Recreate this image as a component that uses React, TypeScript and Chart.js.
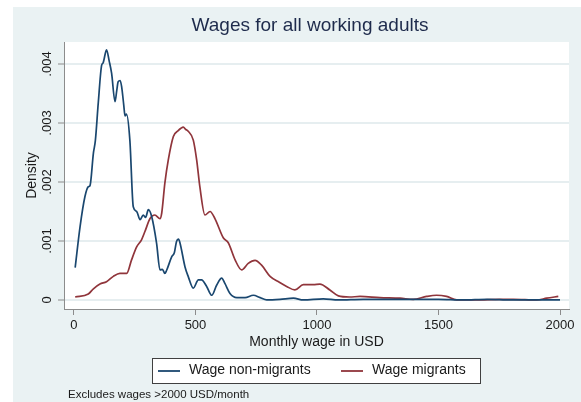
import React, { useEffect, useRef } from "react";
import { Chart, registerables } from "chart.js";

Chart.register(...registerables);

const titleText = "Wages for all working adults";
const xAxisTitle = "Monthly wage in USD";
const yAxisTitle = "Density";
const noteText = "Excludes wages >2000 USD/month";
const seriesNames = ["Wage non-migrants", "Wage migrants"];
const seriesColors = ["#1a476f", "#90353b"];

const xTicks = [0, 500, 1000, 1500, 2000];
const yTicks = [0, 0.001, 0.002, 0.003, 0.004];
const yTickLabels = ["0", ".001", ".002", ".003", ".004"];

const nonMigrantWage = [
  5, 25, 45, 59, 66, 80, 88, 100, 114, 120, 134, 145, 155, 169, 176, 182, 190, 196, 205, 210,
  216, 230, 244, 258, 272, 285, 295, 306, 320, 340, 354, 364, 374, 381, 402, 413, 422, 430, 436,
  457, 470, 491, 512, 525, 546, 567, 587, 608, 621, 642, 670, 704, 738, 766, 793, 848, 903, 944,
  1026, 1088, 1190, 1300, 1400, 1500, 1600, 1700, 1800, 1900, 2000,
];
const nonMigrantDensity = [
  0.00055, 0.00124, 0.00175, 0.00192, 0.00194, 0.00249, 0.0027, 0.00334, 0.00398, 0.00402,
  0.00424, 0.00405, 0.00384, 0.00336, 0.00355, 0.0037, 0.00372, 0.00362, 0.0033, 0.00312,
  0.00315, 0.00271, 0.00158, 0.0015, 0.00136, 0.00144, 0.0014, 0.00153, 0.00141, 0.00096,
  0.00051, 0.00052, 0.00045, 0.0005, 0.00073, 0.0008, 0.00099, 0.00103, 0.00097, 0.00056,
  0.0004, 0.0002, 0.00034, 0.00034, 0.00023, 0.00008, 0.00025, 0.00037, 0.00028, 0.00011,
  0.00004, 0.00004, 0.00008, 0.00004, 0.0, 0.00001, 0.00003, 0.0, 0.00002, 0.0, 0.00001,
  0.00001, 0.00001, 0.00001, 0.0, 0.00001, 0.0, 0.0, 0.0,
];

const migrantWage = [
  5, 59, 80, 107, 134, 162, 189, 217, 237, 258, 278, 292, 313, 333, 354, 361, 374, 388, 409, 429,
  440, 450, 460, 470, 491, 505, 518, 539, 560, 580, 615, 635, 663, 690, 717, 745, 772, 807, 845,
  875, 909, 944, 985, 1012, 1053, 1088, 1134, 1177, 1259, 1342, 1396, 1451, 1492, 1533, 1575,
  1671, 1753, 1808, 1904, 1945, 1993,
];
const migrantDensity = [
  0.00005, 0.0001, 0.00019, 0.00027, 0.00031, 0.0004, 0.00045, 0.00045, 0.00068, 0.0009,
  0.00102, 0.00116, 0.00138, 0.00144, 0.00138, 0.00147, 0.00198, 0.00237, 0.00277, 0.00287,
  0.00291, 0.00293, 0.00289, 0.00286, 0.00271, 0.00237, 0.00192, 0.00144, 0.0015, 0.00138,
  0.00105, 0.00097, 0.00068, 0.00051, 0.00062, 0.00067, 0.00059, 0.0004, 0.0003, 0.00023,
  0.00017, 0.00026, 0.00026, 0.00027, 0.00017, 0.00007, 0.00005, 0.00006, 0.00004, 0.00003,
  0.00001, 0.00006, 0.00008, 0.00006, 0.0, 0.0, 0.00001, 0.00001, 0.0, 0.00003, 0.00006,
];

const FONT = "'Liberation Sans', Arial, sans-serif";
const BG = "#eaf2f3";

const decorPlugin = {
  id: "decor",
  beforeDraw(chart: any) {
    const { ctx, chartArea } = chart;
    ctx.save();
    ctx.fillStyle = "#ffffff";
    ctx.fillRect(0, 0, chart.width, chart.height);
    ctx.fillStyle = BG;
    ctx.fillRect(13, 7, chart.width - 13, chart.height - 7);
    ctx.fillStyle = "#ffffff";
    ctx.fillRect(chartArea.left, chartArea.top, chartArea.right - chartArea.left, chartArea.bottom - chartArea.top);
    ctx.restore();
  },
  afterDraw(chart: any) {
    const { ctx, chartArea } = chart;
    const yScale = chart.scales.y;
    ctx.save();
    // title
    ctx.fillStyle = "#1e2b4c";
    ctx.font = `19px ${FONT}`;
    ctx.textAlign = "center";
    ctx.textBaseline = "alphabetic";
    ctx.fillText(titleText, 310, 31);
    // y tick labels (rotated)
    ctx.fillStyle = "#1a1a1a";
    ctx.font = `13px ${FONT}`;
    yTicks.forEach((v, i) => {
      const y = yScale.getPixelForValue(v);
      ctx.save();
      ctx.translate(47, y);
      ctx.rotate(-Math.PI / 2);
      ctx.textAlign = "center";
      ctx.textBaseline = "middle";
      ctx.fillText(yTickLabels[i], 0, 0);
      ctx.restore();
    });
    // y title
    ctx.font = `14px ${FONT}`;
    ctx.save();
    ctx.translate(32, (chartArea.top + chartArea.bottom) / 2);
    ctx.rotate(-Math.PI / 2);
    ctx.textAlign = "center";
    ctx.textBaseline = "middle";
    ctx.fillText(yAxisTitle, 0, 0);
    ctx.restore();
    // x title
    ctx.textAlign = "center";
    ctx.textBaseline = "middle";
    ctx.fillText(xAxisTitle, (chartArea.left + chartArea.right) / 2, 342);
    // legend box
    ctx.fillStyle = "#ffffff";
    ctx.fillRect(152.5, 358.5, 328, 25);
    ctx.strokeStyle = "#404040";
    ctx.lineWidth = 1;
    ctx.strokeRect(152.5, 358.5, 328, 25);
    const items = [
      { x1: 158, x2: 180, tx: 189 },
      { x1: 341, x2: 363, tx: 372 },
    ];
    items.forEach((it, i) => {
      ctx.strokeStyle = seriesColors[i];
      ctx.lineWidth = 1.8;
      ctx.beginPath();
      ctx.moveTo(it.x1, 371);
      ctx.lineTo(it.x2, 371);
      ctx.stroke();
      ctx.fillStyle = "#1a1a1a";
      ctx.font = `14px ${FONT}`;
      ctx.textAlign = "left";
      ctx.textBaseline = "middle";
      ctx.fillText(seriesNames[i], it.tx, 370);
    });
    // note
    ctx.font = `11.5px ${FONT}`;
    ctx.fillStyle = "#1a1a1a";
    ctx.textAlign = "left";
    ctx.textBaseline = "middle";
    ctx.fillText(noteText, 68, 395);
    ctx.restore();
  },
};

export default function App() {
  const ref = useRef<HTMLCanvasElement | null>(null);
  useEffect(() => {
    if (!ref.current) return;
    const chart = new Chart(ref.current, {
      type: "line",
      data: {
        datasets: [
          {
            label: seriesNames[0],
            data: nonMigrantWage.map((x, i) => ({ x, y: nonMigrantDensity[i] })),
            borderColor: seriesColors[0],
            borderWidth: 1.7,
            pointRadius: 0,
            cubicInterpolationMode: "monotone",
            fill: false,
          },
          {
            label: seriesNames[1],
            data: migrantWage.map((x, i) => ({ x, y: migrantDensity[i] })),
            borderColor: seriesColors[1],
            borderWidth: 1.7,
            pointRadius: 0,
            cubicInterpolationMode: "monotone",
            fill: false,
          },
        ],
      },
      options: {
        responsive: false,
        animation: false,
        events: [],
        layout: { padding: { left: 0, top: 42, right: 12, bottom: 0 } },
        plugins: { legend: { display: false }, title: { display: false }, tooltip: { enabled: false } },
        scales: {
          x: {
            type: "linear",
            min: -41,
            max: 2037,
            afterBuildTicks: (s: any) => {
              s.ticks = xTicks.map((v) => ({ value: v }));
            },
            afterFit: (s: any) => {
              s.height = 93;
            },
            grid: { drawOnChartArea: false, drawTicks: true, tickLength: 6, tickColor: "#8c8c8c", tickWidth: 1 },
            border: { display: true, color: "#8c8c8c", width: 1 },
            ticks: {
              font: { family: FONT, size: 13 },
              color: "#1a1a1a",
              padding: 3,
              maxRotation: 0,
              callback: (v: any) => String(v),
            },
          },
          y: {
            type: "linear",
            min: -0.000153,
            max: 0.004373,
            afterBuildTicks: (s: any) => {
              s.ticks = yTicks.map((v) => ({ value: v }));
            },
            afterFit: (s: any) => {
              s.width = 64;
            },
            grid: { color: "#e6eef0", lineWidth: 2, drawTicks: true, tickLength: 6, tickColor: "#8c8c8c", tickWidth: 1 },
            border: { display: true, color: "#8c8c8c", width: 1 },
            ticks: { display: false },
          },
        },
      },
      plugins: [decorPlugin],
    } as any);
    return () => chart.destroy();
  }, []);
  return (
    <div style={{ position: "fixed", left: 0, top: 0, width: 581, height: 402 }}>
      <canvas ref={ref} width={581} height={402} style={{ width: 581, height: 402 }} />
    </div>
  );
}
